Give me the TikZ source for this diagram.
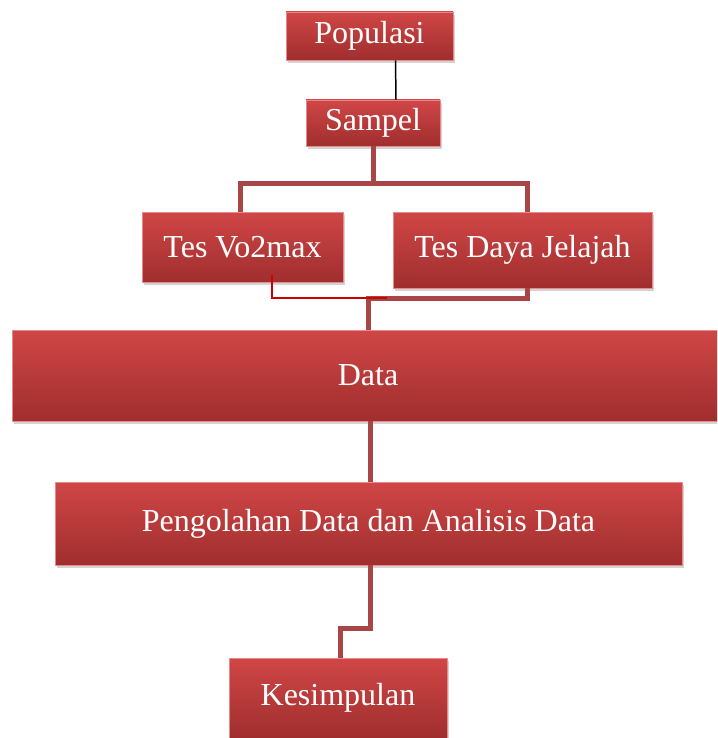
\documentclass[tikz,border=0pt]{standalone}
\usepackage{fontspec}
\setmainfont{Liberation Serif}
\usepackage{tikz}
\usetikzlibrary{shadows}
\definecolor{boxtop}{HTML}{D04646}
\definecolor{boxbot}{HTML}{A02E2E}
\definecolor{boxedge}{HTML}{E98A8A}
\definecolor{linkred}{HTML}{A84646}
\tikzset{
    block/.style={
           rectangle,
           top color=boxtop, bottom color=boxbot,
           draw=boxedge, line width=0.8pt,
           drop shadow={shadow xshift=2pt, shadow yshift=-3pt, opacity=0.35},
           text=white,
           font=\fontsize{32}{36}\selectfont,
           inner sep=2pt,
           text centered,
           },
    link/.style={
           draw=linkred, line width=5pt,
           },
    thinlink/.style={
           draw=red!80!black, line width=1.6pt,
           },
}
\begin{document}
\begin{tikzpicture}[x=1pt,y=-1pt]
    \useasboundingbox (0,0) rectangle (717,738);
    \clip (0,0) rectangle (717,738);

    % corner points of the connectors
    \coordinate (split) at (373,183);
    \coordinate (merge) at (368,298);
    \coordinate (bend) at (370,628);

    % boxes
    \node[block, minimum width=167, minimum height=48] (pop) at (369.5,36) {Populasi};
    \node[block, minimum width=134, minimum height=46] (samp) at (373,123) {Sampel};
    \node[block, minimum width=201, minimum height=70] (vo2) at (242.5,247) {Tes Vo2max};
    \node[block, minimum width=259, minimum height=76] (daya) at (522.5,250) {Tes Daya Jelajah};
    \node[block, minimum width=724, minimum height=91] (data) at (374,375.5) {\hspace{-12pt}Data};
    \node[block, minimum width=627, minimum height=83] (olah) at (368.5,523.5) {Pengolahan Data dan Analisis Data};
    \node[block, minimum width=218, minimum height=80] (kes) at (338,698) {Kesimpulan};

    % draw the paths between the boxes
    \draw[black, line width=1.5pt] ([xshift=26pt]pop.south) -- ([xshift=23pt]samp.north);
    \draw[link] (samp.south) -- (split);
    \draw[link] (split) -| ([xshift=-2pt]vo2.north);
    \draw[link] (split) -| ([xshift=4.5pt]daya.north);
    \draw[link] ([xshift=4.5pt]daya.south) |- (merge) -- (merge |- data.north);
    \draw[thinlink] ([xshift=29.5pt, yshift=7pt]vo2.south) |- ([xshift=19pt]merge);
    \draw[link] ([xshift=-4pt]data.south) -- ([xshift=1.5pt]olah.north);
    \draw[link] ([xshift=1.5pt]olah.south) -- (bend) -| ([xshift=2pt]kes.north);
\end{tikzpicture}
\end{document}
